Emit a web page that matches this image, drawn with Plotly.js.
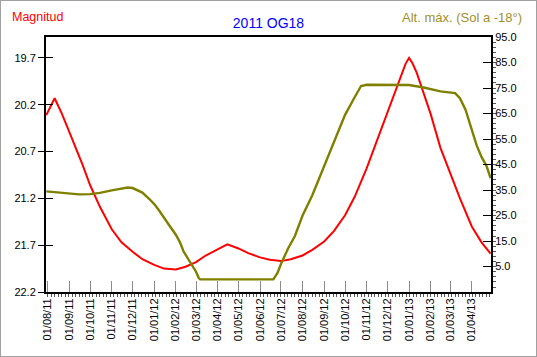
<!DOCTYPE html>
<html>
<head>
<meta charset="utf-8">
<script src="https://cdn.plot.ly/plotly-3.0.1.min.js"></script>
<style>
html,body{margin:0;padding:0;background:#fff;}
#wrap{width:537px;height:357px;box-sizing:border-box;border:1px solid #a0a0a0;overflow:hidden;}
#chart{width:535px;height:355px;}
</style>
</head>
<body>
<div id="wrap"><div id="chart"></div></div>
<script>
const magDates = ['2011-07-30','2011-08-06','2011-08-11','2011-08-16','2011-08-21','2011-09-01','2011-09-10','2011-09-20','2011-10-01','2011-10-15','2011-11-01','2011-11-15','2011-12-01','2011-12-15','2012-01-01','2012-01-15','2012-02-01','2012-02-15','2012-03-01','2012-03-15','2012-04-01','2012-04-15','2012-05-01','2012-05-15','2012-06-01','2012-06-15','2012-07-01','2012-07-15','2012-08-01','2012-08-15','2012-09-01','2012-09-15','2012-10-01','2012-10-15','2012-11-01','2012-11-15','2012-12-01','2012-12-08','2012-12-15','2012-12-22','2012-12-27','2013-01-01','2013-01-06','2013-01-12','2013-01-22','2013-02-01','2013-02-15','2013-03-01','2013-03-15','2013-04-01','2013-04-15','2013-04-28'];
const magnitude = [20.31,20.20,20.13,20.21,20.29,20.49,20.65,20.84,21.06,21.29,21.53,21.67,21.77,21.85,21.91,21.95,21.96,21.93,21.88,21.81,21.745,21.69,21.735,21.785,21.83,21.855,21.87,21.85,21.81,21.75,21.66,21.55,21.38,21.18,20.88,20.60,20.30,20.15,20.00,19.86,19.76,19.70,19.76,19.86,20.09,20.30,20.66,20.94,21.20,21.50,21.67,21.79];

const altDates = ['2011-07-30','2011-08-16','2011-09-01','2011-09-15','2011-10-01','2011-10-15','2011-11-01','2011-11-15','2011-11-24','2011-12-01','2011-12-15','2011-12-25','2012-01-01','2012-01-08','2012-01-15','2012-01-23','2012-02-01','2012-02-07','2012-02-12','2012-02-19','2012-02-26','2012-03-01','2012-03-05','2012-03-07','2012-06-20','2012-06-26','2012-07-01','2012-07-11','2012-07-21','2012-08-01','2012-08-15','2012-09-01','2012-09-15','2012-10-01','2012-10-15','2012-10-24','2012-11-01','2012-12-01','2013-01-01','2013-01-22','2013-02-15','2013-03-08','2013-03-15','2013-03-23','2013-04-01','2013-04-08','2013-04-15','2013-04-22','2013-04-28'];
const altitude = [34.5,34.0,33.5,33.3,33.4,33.9,34.9,35.6,36.0,35.8,34.0,31.5,29.5,27.0,24.0,21.0,17.5,14.5,11.0,7.8,5.0,3.0,0.5,0,0,2.5,6,12,17,25,33,44.5,54,64.5,71.5,75.8,76.3,76.3,76.2,75.2,73.7,73.0,71.0,66.5,59.0,52.5,48.0,44.5,39.7];

const chartTitle = '2011 OG18';
const leftLabel = 'Magnitud';
const rightLabel = 'Alt. máx. (Sol a -18°)';

const FONT = '"Liberation Sans", Arial, sans-serif';

const traces = [
  {x: magDates, y: magnitude, type: 'scatter', mode: 'lines', name: leftLabel,
   line: {color: '#ff0000', width: 2}, yaxis: 'y', hoverinfo: 'skip'},
  {x: altDates, y: altitude, type: 'scatter', mode: 'lines', name: rightLabel,
   line: {color: '#808000', width: 2.4}, yaxis: 'y2', hoverinfo: 'skip'}
];

const layout = {
  width: 535, height: 355,
  margin: {l: 45, r: 45, t: 36, b: 64},
  paper_bgcolor: '#ffffff', plot_bgcolor: '#ffffff',
  showlegend: false,
  font: {family: FONT, size: 11, color: '#000'},
  title: {text: chartTitle, font: {family: FONT, size: 14, color: '#0000ff'},
          x: 0.5, xref: 'paper', xanchor: 'center', y: 0.938, yref: 'container', yanchor: 'middle'},
  xaxis: {
    type: 'date',
    range: ['2011-07-29 14:00', '2013-04-28 14:00'],
    tick0: '2011-08-01', dtick: 'M1', tickformat: '%d/%m/%y', tickangle: -90,
    ticks: 'inside', ticklen: 11, tickcolor: '#8c8c8c', tickwidth: 1,
    minor: {dtick: 5*86400000, tick0: '2011-08-01', ticks: 'outside', ticklen: 3, tickcolor: '#555', tickwidth: 1},
    showgrid: false, zeroline: false,
    showline: true, linecolor: '#000', linewidth: 2, mirror: true,
    tickfont: {family: FONT, size: 11, color: '#000'}
  },
  yaxis: {
    range: [22.2, 19.476],
    tick0: 19.7, dtick: 0.5, tickformat: '.1f',
    ticks: 'outside', ticklen: 6, tickcolor: '#000', tickwidth: 1,
    showgrid: false, zeroline: false,
    showline: true, linecolor: '#000', linewidth: 2,
    tickfont: {family: FONT, size: 11, color: '#000'}
  },
  yaxis3: {
    range: [22.2, 19.476], overlaying: 'y', side: 'left',
    tick0: 19.7, dtick: 0.5, ticks: 'inside', ticklen: 7, tickcolor: '#000',
    showticklabels: false, showgrid: false, zeroline: false, showline: false
  },
  yaxis2: {
    range: [-4.95, 95], overlaying: 'y', side: 'right',
    tick0: 5, dtick: 10, tickformat: '.1f',
    ticks: 'inside', ticklen: 8, tickcolor: '#000', tickwidth: 1,
    minor: {dtick: 2, tick0: 5, ticks: 'outside', ticklen: 3, tickcolor: '#555'},
    showgrid: false, zeroline: false,
    showline: true, linecolor: '#000', linewidth: 2,
    tickfont: {family: FONT, size: 11, color: '#000'}
  },
  annotations: [
    {text: leftLabel, xref: 'paper', yref: 'paper', x: -0.081, y: 1.078,
     xanchor: 'left', yanchor: 'middle', showarrow: false,
     font: {family: FONT, size: 12.5, color: '#ff0000'}},
    {text: rightLabel, xref: 'paper', yref: 'paper', x: 1.0735, y: 1.078,
     xanchor: 'right', yanchor: 'middle', showarrow: false,
     font: {family: FONT, size: 13, color: '#a0902a'}}
  ]
};

traces.push({x: [magDates[0]], y: [21], yaxis: 'y3', type: 'scatter', mode: 'none', hoverinfo: 'skip', showlegend: false});

Plotly.newPlot('chart', traces, layout, {staticPlot: true, displayModeBar: false});
</script>
</body>
</html>
